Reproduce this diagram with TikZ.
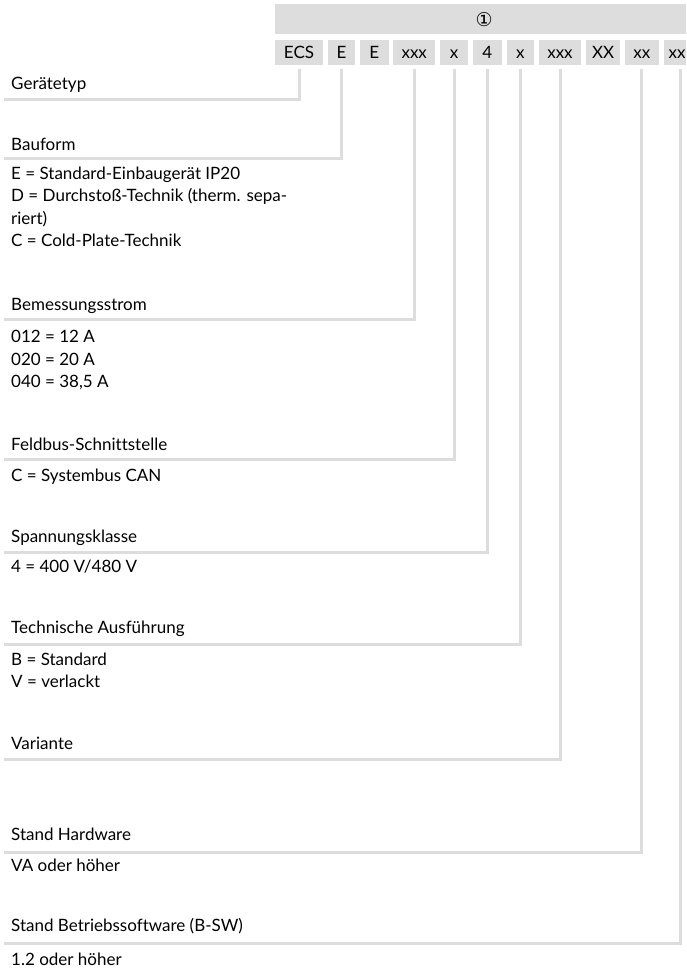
\documentclass[tikz,border=0pt]{standalone}
\usepackage{fontspec}
\setmainfont{Lato}[Ligatures=CommonOff]
\newfontfamily\symfont{DejaVu Sans}
\usetikzlibrary{positioning}
\definecolor{codegray}{RGB}{221, 221, 221}
\newcommand{\labelfont}{\fontsize{17}{22.4}\selectfont}
\newcommand{\desclines}[1]{\begin{tabular}[t]{@{}l@{}}#1\end{tabular}}
\tikzset{
  codebox/.style={
    rectangle, fill=codegray, inner sep=0pt,
    minimum height=25pt, text height=12.5pt, text depth=1.5pt,
    font=\labelfont
  },
  hdrbar/.style={
    rectangle, fill=codegray, inner sep=0pt,
    minimum width=418pt, minimum height=30pt,
    font=\symfont\fontsize{19}{20}\selectfont
  },
  lbl/.style={anchor=base west, inner sep=0pt, font=\labelfont},
  lead/.style={draw=codegray, line width=3pt}
}

\begin{document}
\begin{tikzpicture}[x=1pt, y=-1pt]

  \useasboundingbox (0,0) rectangle (686,969);
  \clip (0,0) rectangle (686,969);

  % ── Header bar ─────────────────────────────────────────────────
  \node[hdrbar, anchor=north west] (hdr) at (275,4) {①};

  % ── Type code boxes ────────────────────────────────────────────
  \node[codebox, minimum width=47.7pt, anchor=north west] (c1) at (275,40) {ECS};
  \node[codebox, minimum width=27.7pt, right=4.3pt of c1] (c2) {E};
  \node[codebox, minimum width=28.7pt, right=4.3pt of c2] (c3) {E};
  \node[codebox, minimum width=41.7pt, right=4.3pt of c3] (c4) {xxx};
  \node[codebox, minimum width=28.4pt, right=4.3pt of c4] (c5) {x};
  \node[codebox, minimum width=29pt,   right=4.3pt of c5] (c6) {4};
  \node[codebox, minimum width=27.7pt, right=4.3pt of c6] (c7) {x};
  \node[codebox, minimum width=42pt,   right=4.3pt of c7] (c8) {xxx};
  \node[codebox, minimum width=34.7pt, right=4.3pt of c8] (c9) {XX};
  \node[codebox, minimum width=33.7pt, right=4.3pt of c9] (c10) {xx};
  \node[codebox, minimum width=27pt,   right=4.3pt of c10] (c11) {xx};

  % ── Gerätetyp ──────────────────────────────────────────────────
  \node[lbl] (typ) at (11,89.3) {Gerätetyp};
  \coordinate (typ-end) at (3.5,99.2);

  % ── Bauform ────────────────────────────────────────────────────
  \node[lbl] (bau) at (11,150.7) {Bauform};
  \coordinate (bau-end) at (3.5,158.7);
  \node[lbl] (baudesc) at (11,179.3) {\desclines{%
    E = Standard-Einbaugerät IP20\\
    D = Durchstoß-Technik (therm. sepa-\\
    riert)\\
    C = Cold-Plate-Technik}};

  % ── Bemessungsstrom ────────────────────────────────────────────
  \node[lbl] (strom) at (11,310.7) {Bemessungsstrom};
  \coordinate (strom-end) at (3.5,319.8);
  \node[lbl] (stromdesc) at (11,342.7) {\desclines{%
    012 = 12 A\\
    020 = 20 A\\
    040 = 38,5 A}};

  % ── Feldbus-Schnittstelle ──────────────────────────────────────
  \node[lbl] (bus) at (11,450) {Feldbus-Schnittstelle};
  \coordinate (bus-end) at (3.5,459.3);
  \node[lbl] (busdesc) at (11,481) {C = Systembus CAN};

  % ── Spannungsklasse ────────────────────────────────────────────
  \node[lbl] (spg) at (11,542.7) {Spannungsklasse};
  \coordinate (spg-end) at (3.5,552);
  \node[lbl] (spgdesc) at (11,572) {4 = 400 V/480 V};

  % ── Technische Ausführung ──────────────────────────────────────
  \node[lbl] (ausf) at (11,633.3) {Technische Ausführung};
  \coordinate (ausf-end) at (3.5,644);
  \node[lbl] (ausfdesc) at (11,665) {\desclines{%
    B = Standard\\
    V = verlackt}};

  % ── Variante ───────────────────────────────────────────────────
  \node[lbl] (var) at (11,749.3) {Variante};
  \coordinate (var-end) at (3.5,759);

  % ── Stand Hardware ─────────────────────────────────────────────
  \node[lbl] (hw) at (11,840) {Stand Hardware};
  \coordinate (hw-end) at (3.5,852);
  \node[lbl] (hwdesc) at (11,871.7) {VA oder höher};

  % ── Stand Betriebssoftware ─────────────────────────────────────
  \node[lbl] (sw) at (11,931.7) {Stand Betriebssoftware (B-SW)};
  \coordinate (sw-end) at (3.5,943.3);
  \node[lbl] (swdesc) at (11,965) {1.2 oder höher};

  % ── Leader lines ───────────────────────────────────────────────
  \draw[lead] ([yshift=-4pt]c1.south)  |- (typ-end);
  \draw[lead] ([yshift=-4pt]c2.south)  |- (bau-end);
  \draw[lead] ([yshift=-4pt]c4.south)  |- (strom-end);
  \draw[lead] ([yshift=-4pt]c5.south)  |- (bus-end);
  \draw[lead] ([yshift=-4pt]c6.south)  |- (spg-end);
  \draw[lead] ([yshift=-4pt]c7.south)  |- (ausf-end);
  \draw[lead] ([yshift=-4pt]c8.south)  |- (var-end);
  \draw[lead] ([yshift=-4pt]c10.south) |- (hw-end);
  \draw[lead] ([xshift=3.5pt,yshift=-4pt]c11.south) |- (sw-end);

\end{tikzpicture}
\end{document}
